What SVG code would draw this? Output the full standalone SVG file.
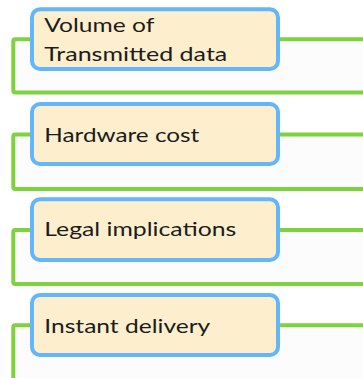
<svg xmlns="http://www.w3.org/2000/svg" width="363" height="378" viewBox="0 0 363 378">
<style>
.frame{fill:#fcfcfc;stroke:#7ed23e;stroke-width:4}
.box{fill:#fdefcd;stroke:#63b6f8;stroke-width:4}
.lbl{font-family:Lato,"Liberation Sans",sans-serif;font-size:20px;fill:#1c1c1c}
</style>
<rect width="363" height="378" fill="#ffffff"/>
<g id="connectors">
<rect class="frame" x="13.3" y="39.3" width="400" height="53.2" rx="2"/>
<rect class="frame" x="13.3" y="134.5" width="400" height="54.5" rx="2"/>
<rect class="frame" x="13.3" y="230" width="400" height="54" rx="2"/>
<rect class="frame" x="13.3" y="325.3" width="400" height="70" rx="2"/>
</g>
<g id="node1">
<rect class="box" x="32" y="9.3" width="246" height="59.7" rx="8"/>
<text class="lbl" x="44.3" y="32" textLength="110" lengthAdjust="spacingAndGlyphs">Volume of</text>
<text class="lbl" x="44.3" y="60.7" textLength="183" lengthAdjust="spacingAndGlyphs">Transmitted data</text>
</g>
<g id="node2">
<rect class="box" x="32" y="104" width="246" height="60" rx="8"/>
<text class="lbl" x="44.3" y="141.6" textLength="155" lengthAdjust="spacingAndGlyphs">Hardware cost</text>
</g>
<g id="node3">
<rect class="box" x="32" y="199.3" width="246" height="60.7" rx="8"/>
<text class="lbl" x="44.3" y="236" textLength="192" lengthAdjust="spacingAndGlyphs">Legal implications</text>
</g>
<g id="node4">
<rect class="box" x="32" y="295" width="246" height="60" rx="8"/>
<text class="lbl" x="44.3" y="332.7" textLength="166" lengthAdjust="spacingAndGlyphs">Instant delivery</text>
</g>
</svg>
